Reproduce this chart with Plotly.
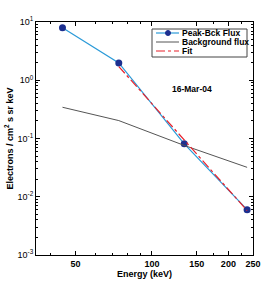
import plotly.graph_objects as go

energy = [44.4, 74, 134, 237]
peak_bck_flux = [8.0, 1.98, 0.081, 0.0060]
background_flux = [0.344, 0.203, 0.076, 0.032]
fit_energy = [74, 237]
fit_flux = [1.72, 0.0058]

x_tick_vals = [50, 100, 150, 200, 250]
x_tick_text = ["50", "100", "150", "200", "250"]
x_minor_vals = [40, 60, 70, 80, 90, 175, 225]
y_tick_vals = [1e-3, 1e-2, 1e-1, 1e0, 1e1]
y_tick_text = ["10<sup>-3</sup>", "10<sup>-2</sup>", "10<sup>-1</sup>", "10<sup>0</sup>", "10<sup>1</sup>"]
legend_names = ["Peak-Bck Flux", "Background flux", "Fit"]

font = "Liberation Sans, Arial, sans-serif"
BLUE = "#2a9ad8"
NAVY = "#1c2f8f"
GRAY = "#555555"
RED = "#e8202a"

W, H = 280, 287
ML, MR, MT, MB = 36, 27, 22, 32
PW, PH = W - ML - MR, H - MT - MB


def px(x):
    return (x - ML) / PW


def py(y):
    return 1 - (y - MT) / PH


fig = go.Figure()
fig.add_trace(go.Scatter(x=energy, y=peak_bck_flux, mode="lines+markers", name=legend_names[0],
                         line=dict(color=BLUE, width=1.2),
                         marker=dict(color=NAVY, size=7), showlegend=False))
fig.add_trace(go.Scatter(x=energy, y=background_flux, mode="lines", name=legend_names[1],
                         line=dict(color=GRAY, width=1), showlegend=False))
fig.add_trace(go.Scatter(x=fit_energy, y=fit_flux, mode="lines", name=legend_names[2],
                         line=dict(color=RED, width=1.2, dash="dashdot"), showlegend=False))

# manual compact legend (MATLAB style)
fig.add_shape(type="rect", xref="paper", yref="paper", x0=px(152), x1=px(247), y0=py(57), y1=py(29),
              line=dict(color="#444444", width=1), fillcolor="white", layer="above")
rows = [33, 42, 51]
styles = [dict(color=BLUE, width=1.2), dict(color=GRAY, width=1), dict(color=RED, width=1.2, dash="dashdot")]
for name, ry, st in zip(legend_names, rows, styles):
    fig.add_shape(type="line", xref="paper", yref="paper", x0=px(156), x1=px(179), y0=py(ry), y1=py(ry),
                  line=st, layer="above")
    fig.add_annotation(x=px(179.5), y=py(ry), xref="paper", yref="paper", text="<b>%s</b>" % name,
                       showarrow=False, xanchor="left", yanchor="middle",
                       font=dict(size=8.5, color="black", family=font))
fig.add_shape(type="circle", xref="paper", yref="paper", x0=px(165.5), x1=px(170.5), y0=py(35.5), y1=py(30.5),
              line=dict(color=NAVY, width=1), fillcolor=NAVY, layer="above")

fig.add_annotation(x=px(192), y=py(89), xref="paper", yref="paper", text="<b>16-Mar-04</b>",
                   showarrow=False, xanchor="center", yanchor="middle",
                   font=dict(size=8.5, color="black", family=font))

axis_common = dict(showline=True, linecolor="black", linewidth=1, mirror="ticks",
                   ticks="inside", ticklen=4, tickcolor="black", showgrid=False, zeroline=False,
                   automargin=False, tickfont=dict(size=9, color="black", family=font))

fig.update_xaxes(type="log", range=[1.543, 2.398], tickmode="array", tickvals=x_tick_vals,
                 ticktext=["<b>%s</b>" % t for t in x_tick_text],
                 minor=dict(tickmode="array", tickvals=x_minor_vals, ticks="inside", ticklen=2, tickcolor="black"),
                 title=dict(text="<b>Energy (keV)</b>", font=dict(size=9, color="black", family=font), standoff=2),
                 **axis_common)
fig.update_yaxes(type="log", range=[-3, 1], tickmode="array", tickvals=y_tick_vals, ticktext=y_tick_text,
                 minor=dict(ticks="inside", ticklen=2, tickcolor="black", dtick="D1"),
                 title=dict(text="<b>Electrons / cm<sup>2</sup> s sr keV</b>", font=dict(size=9, color="black", family=font), standoff=2),
                 **axis_common)

fig.update_layout(width=W, height=H, margin=dict(l=ML, r=MR, t=MT, b=MB, autoexpand=False),
                  plot_bgcolor="white", paper_bgcolor="white", showlegend=False,
                  font=dict(family=font, color="black"))

fig.write_html("out.html", config={"displayModeBar": False},
               post_script="document.body.style.margin='0';document.body.style.overflow='hidden';")
